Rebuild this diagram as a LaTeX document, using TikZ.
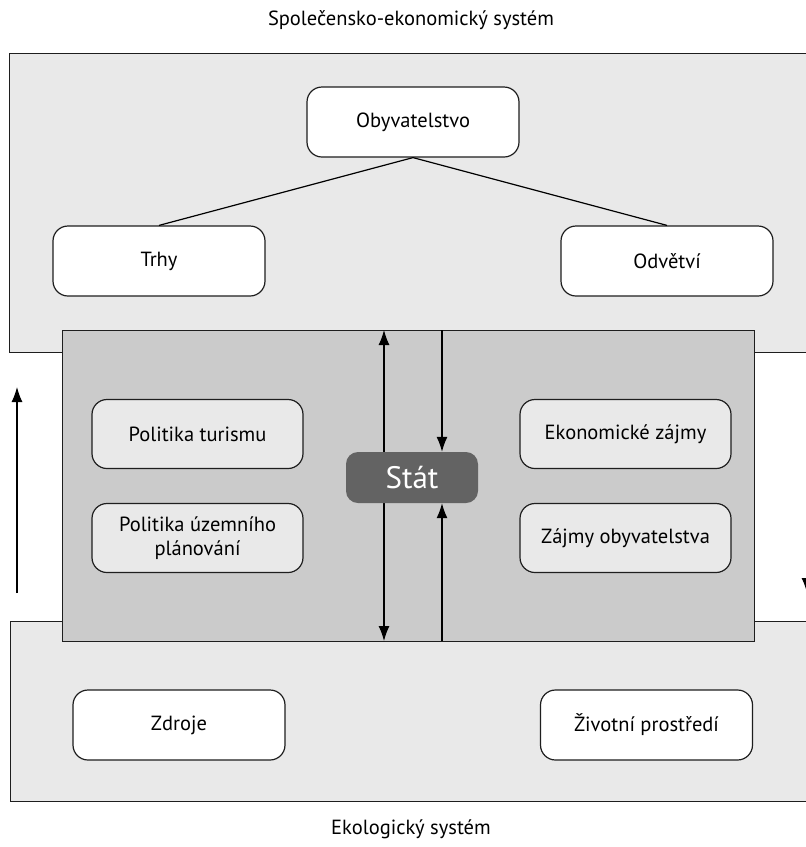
\documentclass[tikz,border=0pt]{standalone}
\usepackage{fontspec}
\setmainfont{PT Sans}
\usetikzlibrary{arrows.meta}
\definecolor{outerfill}{HTML}{E9E9E9}
\definecolor{midfill}{HTML}{CBCBCB}
\definecolor{statfill}{HTML}{636363}
\definecolor{edge}{HTML}{1E1E1E}
\tikzset{
  region/.style={draw=edge, line width=1.3pt, rectangle, inner sep=0pt},
  whitebox/.style={draw=edge, line width=1.2pt, fill=white, rounded corners=15pt,
    minimum width=212pt, minimum height=70pt, align=center, font=\fontsize{20.5}{24}\selectfont},
  greybox/.style={draw=edge, line width=1.2pt, fill=outerfill, rounded corners=15pt,
    minimum width=211pt, minimum height=69pt, align=center, font=\fontsize{20.5}{24}\selectfont},
  statbox/.style={fill=statfill, rounded corners=12pt, minimum width=132pt, minimum height=51pt,
    text=white, font=\fontsize{31}{34}\selectfont},
  caption/.style={font=\fontsize{20.5}{24}\selectfont},
  flow/.style={draw=black, line width=1.2pt, -{Latex[length=15pt,width=11pt]}},
  link/.style={draw=black, line width=1.2pt}
}
\begin{document}
\begin{tikzpicture}[x=1pt,y=-1pt]
\useasboundingbox (0,0) rectangle (806,847);
% regions
\node[region, fill=outerfill, minimum width=831pt, minimum height=299pt, anchor=north west] (soc) at (9,53) {};
\node[region, fill=outerfill, minimum width=830pt, minimum height=180pt, anchor=north west] (eko) at (10,621) {};
\node[region, fill=midfill, minimum width=692pt, minimum height=311pt, anchor=north west] (state) at (62,330) {};
% captions
\node[caption] (tsoc) at (411,20) {Společensko-ekonomický systém};
\node[caption] (teko) at (411,829) {Ekologický systém};
% top boxes
\node[whitebox] (oby) at (413,122) {Obyvatelstvo};
\node[whitebox] (trhy) at (159,261) {Trhy};
\node[whitebox] (odv) at (667,261) {Odvětví};
\draw[link] (oby.south) -- (trhy.north);
\draw[link] (oby.south) -- (odv.north);
% Stat and its arrows
\coordinate (a1t) at (384,330);
\coordinate (a1b) at (384,641);
\coordinate (a2t) at (442,330);
\coordinate (a2b) at (442,641);
\draw[line width=1.2pt, {Latex[length=15pt,width=11pt]}-{Latex[length=15pt,width=11pt]}] (a1t) -- (a1b);
\node[statbox] (stat) at (412,477.5) {Stát};
\draw[flow] (a2t) -- (a2t |- stat.north);
\draw[flow] (a2b) -- (a2b |- stat.south);
% inner boxes
\node[greybox] (pt) at (197.5,434) {Politika turismu};
\node[greybox] (pup) at (197.5,538) {Politika územního\\plánování};
\node[greybox] (ez) at (625.5,434) {Ekonomické zájmy};
\node[greybox] (zo) at (625.5,538) {Zájmy obyvatelstva};
% bottom boxes
\node[whitebox] (zdr) at (179,725) {Zdroje};
\node[whitebox] (zp) at (646.5,725) {Životní prostředí};
% side arrows
\coordinate (lb) at (17,593);
\coordinate (lt) at (17,387);
\draw[flow] (lb) -- (lt);
\coordinate (rt) at (807,387);
\coordinate (rb) at (807,593);
\draw[flow] (rt) -- (rb);
\end{tikzpicture}
\end{document}
